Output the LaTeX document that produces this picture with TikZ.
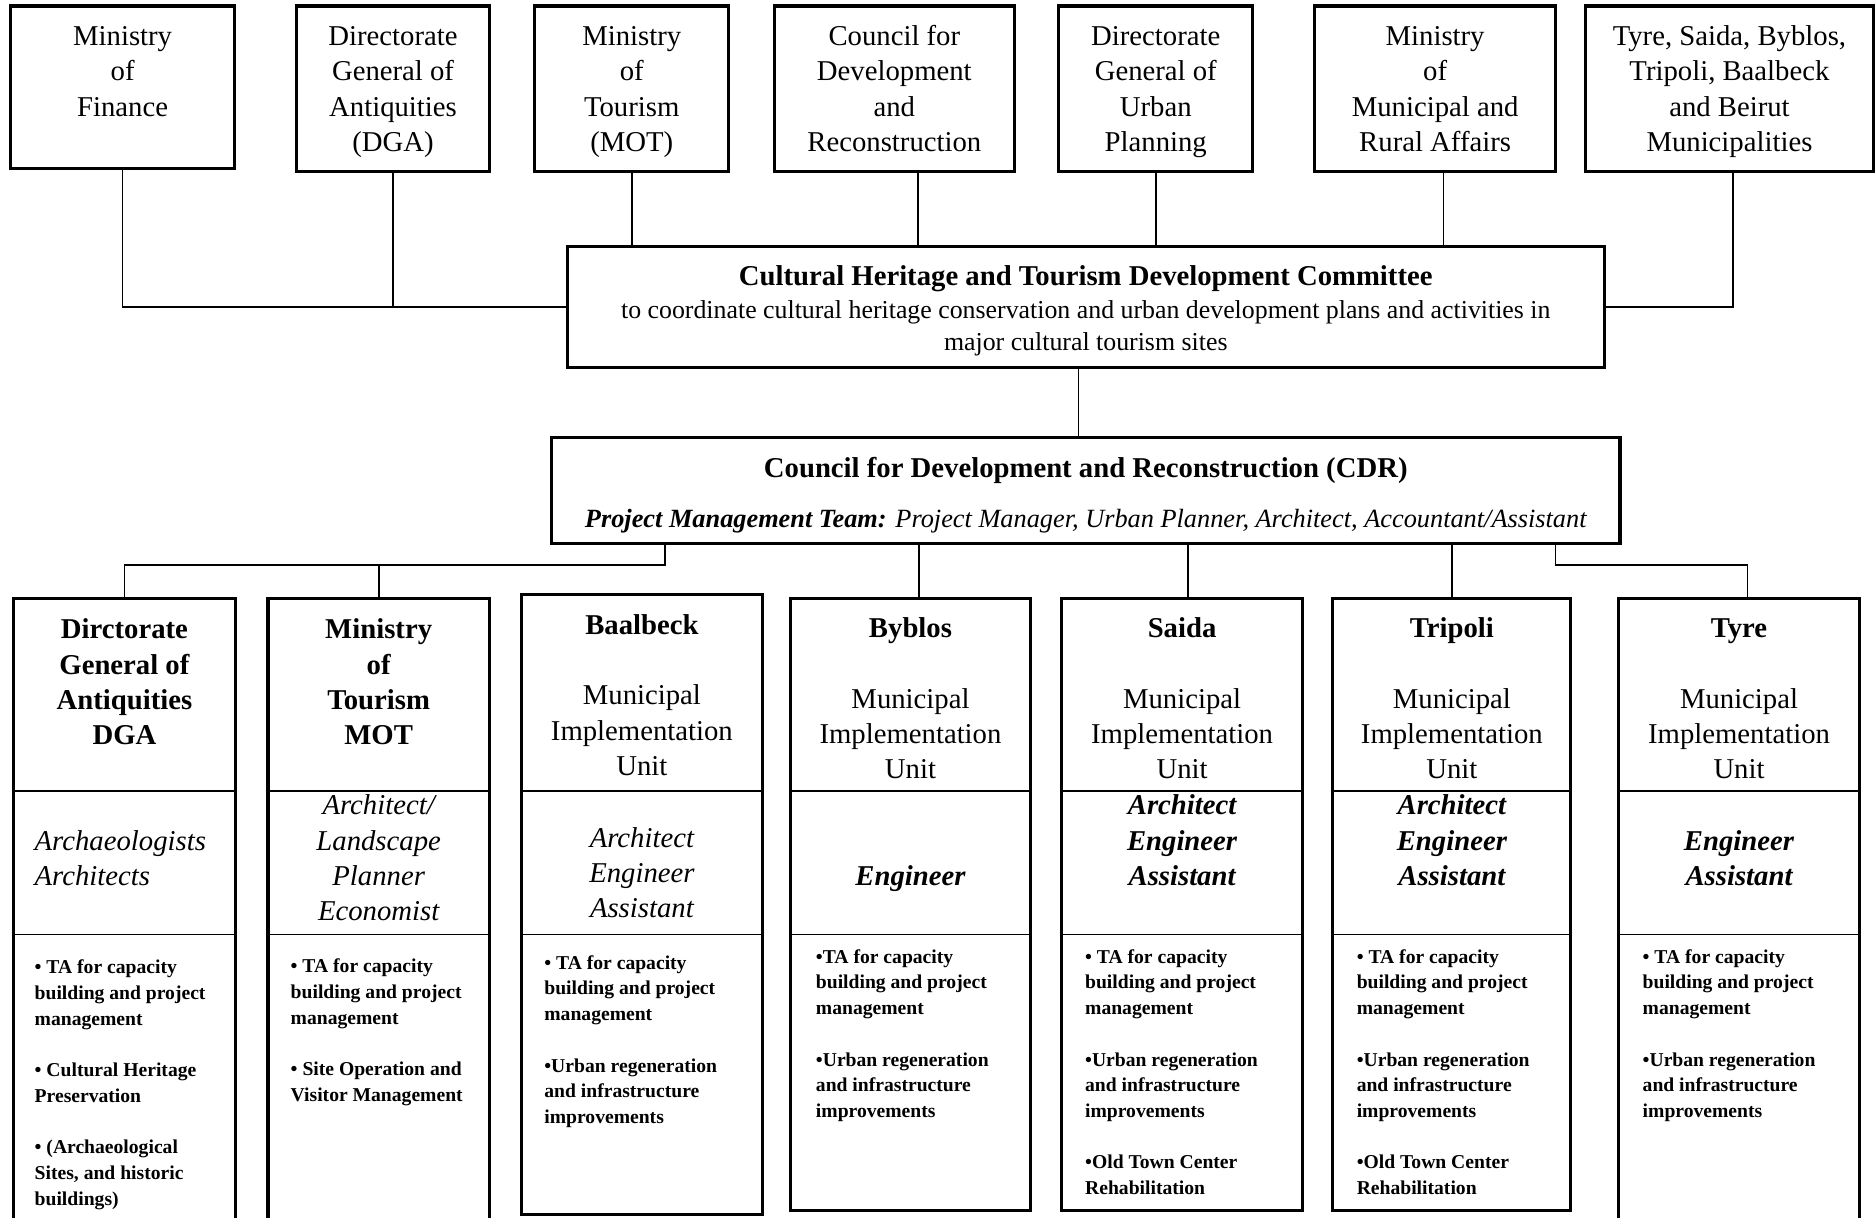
\documentclass[tikz,border=0pt]{standalone}
\usepackage{fontspec}
\setmainfont{Liberation Serif}
\usetikzlibrary{positioning}

% text block of fixed size, first baseline at #3 from the top
\newcommand{\inbox}[5]{\parbox[c][#2][t]{#1}{#4\rule{0pt}{#3}#5}}

\tikzset{
  box/.style={draw, line width=1.3pt, inner sep=0pt, outer sep=0pt, anchor=north west},
  unitpart/.style={draw, line width=0.6pt, inner sep=0pt, outer sep=0pt},
  unitframe/.style={line width=1.3pt},
  link/.style={line width=0.7pt},
  bigtext/.style={font=\fontsize{12}{14.75}\selectfont},
  tasktext/.style={font=\fontsize{8.2}{10.75}\selectfont\bfseries},
}

\begin{document}
\begin{tikzpicture}[x=1pt,y=-1pt]
\useasboundingbox (0,0) rectangle (784,509);
\clip (0,0) rectangle (784,509);

% top row
\node[box,bigtext] (fin) at (4.5,2.5) {\inbox{93.5pt}{68pt}{16.5pt}{\centering}{Ministry\\of\\Finance}};
\node[box,bigtext] (dgatop) at (124,2.5) {\inbox{80.5pt}{69pt}{16.5pt}{\centering}{Directorate\\General of\\Antiquities\\(DGA)}};
\node[box,bigtext] (mottop) at (223.5,2.5) {\inbox{81pt}{69pt}{16.5pt}{\centering}{Ministry\\of\\Tourism\\(MOT)}};
\node[box,bigtext] (cdrtop) at (323.5,2.5) {\inbox{100.5pt}{69pt}{16.5pt}{\centering}{Council for\\Development\\and\\Reconstruction}};
\node[box,bigtext] (dgup) at (442.5,2.5) {\inbox{81pt}{69pt}{16.5pt}{\centering}{Directorate\\General of\\Urban\\Planning}};
\node[box,bigtext] (mmra) at (549.5,2.5) {\inbox{100.5pt}{69pt}{16.5pt}{\centering}{Ministry\\of\\Municipal and\\Rural Affairs}};
\node[box,bigtext] (munis) at (662.5,2.5) {\inbox{120.5pt}{69pt}{16.5pt}{\centering}{Tyre, Saida, Byblos,\\Tripoli, Baalbeck\\and Beirut\\Municipalities}};

% committee and CDR
\node[box] (chtd) at (237,103) {\inbox{433.5pt}{50.5pt}{16.5pt}{\centering}{{\fontsize{12}{14}\selectfont\bfseries Cultural Heritage and Tourism Development Committee\par}
   \fontsize{10.8}{13.5}\selectfont to coordinate cultural heritage conservation and urban development plans and activities in\\ major cultural tourism sites}};
\node[box] (cdr) at (230.5,183) {\inbox{446.5pt}{44pt}{16.5pt}{\centering}{{\fontsize{12}{14}\selectfont\bfseries Council for Development and Reconstruction (CDR)\par}\vspace{8pt}
   \fontsize{11}{13}\selectfont\itshape\textbf{Project Management Team:} Project Manager, Urban Planner, Architect, Accountant/Assistant}};

% DGA
\node[unitpart, anchor=north west, bigtext] (dgaH) at (5.5,250) {\inbox{93pt}{80.5pt}{17pt}{\centering}{\bfseries Dirctorate\\General of\\Antiquities\\DGA}};
\node[unitpart, below=0pt of dgaH, bigtext] (dgaS) {\inbox{93pt}{60pt}{25pt}{\raggedright\leftskip=9pt}{\itshape Archaeologists\\Architects}};
\node[unitpart, below=0pt of dgaS, tasktext] (dgaT) {\inbox{93pt}{130pt}{16.5pt}{\raggedright\leftskip=9pt}{• TA for capacity\\building and project\\management\\[10.75pt]• Cultural Heritage\\Preservation\\[10.75pt]• (Archaeological\\Sites, and historic\\buildings)}};
\draw[unitframe] (dgaH.north west) rectangle (dgaT.south east);

% MOT
\node[unitpart, anchor=north west, bigtext] (motH) at (112,250) {\inbox{92.5pt}{80.5pt}{17pt}{\centering}{\bfseries Ministry\\of\\Tourism\\MOT}};
\node[unitpart, below=0pt of motH, bigtext] (motS) {\inbox{92.5pt}{60pt}{10pt}{\centering}{\itshape Architect/\\Landscape\\Planner\\Economist}};
\node[unitpart, below=0pt of motS, tasktext] (motT) {\inbox{92.5pt}{130pt}{16pt}{\raggedright\leftskip=9.5pt}{• TA for capacity\\building and project\\management\\[10.75pt]• Site Operation and\\Visitor Management}};
\draw[unitframe] (motH.north west) rectangle (motT.south east);

% Baalbeck
\node[unitpart, anchor=north west, bigtext] (baalH) at (218,248.5) {\inbox{100.5pt}{82pt}{16.5pt}{\centering}{\textbf{Baalbeck}\\[14.75pt]Municipal\\Implementation\\Unit}};
\node[unitpart, below=0pt of baalH, bigtext] (baalS) {\inbox{100.5pt}{60pt}{23.5pt}{\centering}{\itshape Architect\\Engineer\\Assistant}};
\node[unitpart, below=0pt of baalS, tasktext] (baalT) {\inbox{100.5pt}{117pt}{14.5pt}{\raggedright\leftskip=9.5pt}{• TA for capacity\\building and project\\management\\[10.75pt]•Urban regeneration\\and infrastructure\\improvements}};
\draw[unitframe] (baalH.north west) rectangle (baalT.south east);

% Byblos
\node[unitpart, anchor=north west, bigtext] (byblH) at (330.5,250) {\inbox{100pt}{80.5pt}{16.5pt}{\centering}{\textbf{Byblos}\\[14.75pt]Municipal\\Implementation\\Unit}};
\node[unitpart, below=0pt of byblH, bigtext] (byblS) {\inbox{100pt}{60pt}{39.5pt}{\centering}{\bfseries\itshape Engineer}};
\node[unitpart, below=0pt of byblS, tasktext] (byblT) {\inbox{100pt}{115.5pt}{12pt}{\raggedright\leftskip=10.5pt}{•TA for capacity\\building and project\\management\\[10.75pt]•Urban regeneration\\and infrastructure\\improvements}};
\draw[unitframe] (byblH.north west) rectangle (byblT.south east);

% Saida
\node[unitpart, anchor=north west, bigtext] (saidH) at (443.5,250) {\inbox{101pt}{80.5pt}{16.5pt}{\centering}{\textbf{Saida}\\[14.75pt]Municipal\\Implementation\\Unit}};
\node[unitpart, below=0pt of saidH, bigtext] (saidS) {\inbox{101pt}{60pt}{10pt}{\centering}{\bfseries\itshape Architect\\Engineer\\Assistant}};
\node[unitpart, below=0pt of saidS, tasktext] (saidT) {\inbox{101pt}{115.5pt}{12pt}{\raggedright\leftskip=10pt}{• TA for capacity\\building and project\\management\\[10.75pt]•Urban regeneration\\and infrastructure\\improvements\\[10.75pt]•Old Town Center\\Rehabilitation}};
\draw[unitframe] (saidH.north west) rectangle (saidT.south east);

% Tripoli
\node[unitpart, anchor=north west, bigtext] (tripH) at (557,250) {\inbox{99.5pt}{80.5pt}{16.5pt}{\centering}{\textbf{Tripoli}\\[14.75pt]Municipal\\Implementation\\Unit}};
\node[unitpart, below=0pt of tripH, bigtext] (tripS) {\inbox{99.5pt}{60pt}{10pt}{\centering}{\bfseries\itshape Architect\\Engineer\\Assistant}};
\node[unitpart, below=0pt of tripS, tasktext] (tripT) {\inbox{99.5pt}{115.5pt}{12pt}{\raggedright\leftskip=10pt}{• TA for capacity\\building and project\\management\\[10.75pt]•Urban regeneration\\and infrastructure\\improvements\\[10.75pt]•Old Town Center\\Rehabilitation}};
\draw[unitframe] (tripH.north west) rectangle (tripT.south east);

% Tyre
\node[unitpart, anchor=north west, bigtext] (tyreH) at (676.5,250) {\inbox{100.5pt}{80.5pt}{16.5pt}{\centering}{\textbf{Tyre}\\[14.75pt]Municipal\\Implementation\\Unit}};
\node[unitpart, below=0pt of tyreH, bigtext] (tyreS) {\inbox{100.5pt}{60pt}{25pt}{\centering}{\bfseries\itshape Engineer\\Assistant}};
\node[unitpart, below=0pt of tyreS, tasktext] (tyreT) {\inbox{100.5pt}{130pt}{12pt}{\raggedright\leftskip=10pt}{• TA for capacity\\building and project\\management\\[10.75pt]•Urban regeneration\\and infrastructure\\improvements}};
\draw[unitframe] (tyreH.north west) rectangle (tyreT.south east);

% links to the committee
\coordinate (cdrdrop) at ([xshift=10pt]cdrtop.south);
\coordinate (mmradrop) at ([xshift=3.5pt]mmra.south);
\coordinate (munidrop) at ([xshift=1.5pt]munis.south);
\coordinate (chtddrop) at ([xshift=-3pt]chtd.south);
\draw[link] (fin.south) |- (chtd.west);
\draw[link] (dgatop.south) -- (dgatop.south |- chtd.west);
\draw[link] (mottop.south) -- (mottop.south |- chtd.north);
\draw[link] (cdrdrop) -- (cdrdrop |- chtd.north);
\draw[link] (dgup.south) -- (dgup.south |- chtd.north);
\draw[link] (mmradrop) -- (mmradrop |- chtd.north);
\draw[link] (munidrop) |- (chtd.east);
\draw[link] (chtddrop) -- (chtddrop |- cdr.north);

% links from the CDR
\coordinate (lhook) at (278,236);
\coordinate (rhook) at (650,236);
\coordinate (byblup) at ([xshift=3.5pt]byblH.north);
\coordinate (saidup) at ([xshift=2.5pt]saidH.north);
\coordinate (tyreup) at ([xshift=3.5pt]tyreH.north);
\draw[link] (lhook |- cdr.south) -- (lhook) -| (dgaH.north);
\draw[link] (motH.north) -- (motH.north |- lhook);
\draw[link] (byblup) -- (byblup |- cdr.south);
\draw[link] (saidup) -- (saidup |- cdr.south);
\draw[link] (tripH.north) -- (tripH.north |- cdr.south);
\draw[link] (rhook |- cdr.south) -- (rhook) -| (tyreup);
\end{tikzpicture}
\end{document}
